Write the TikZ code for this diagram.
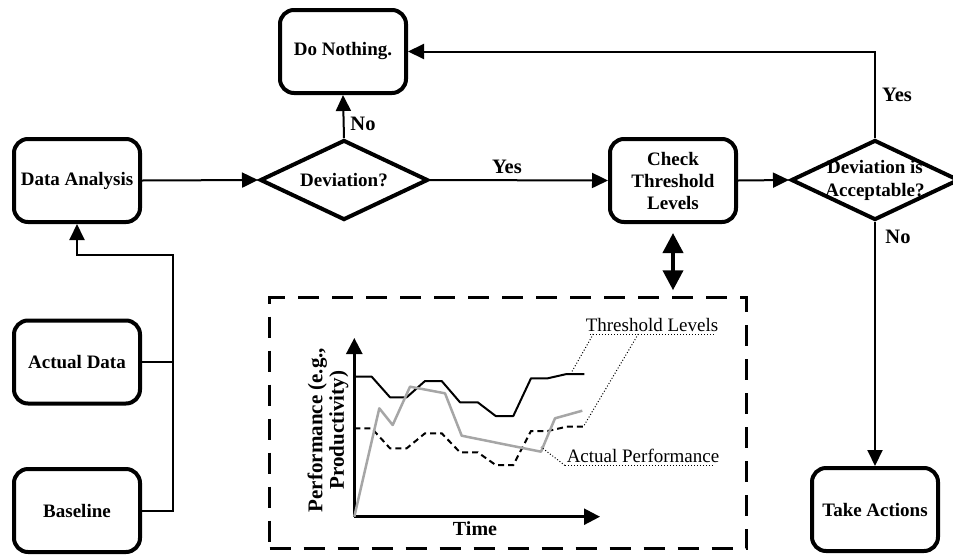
\documentclass[tikz,border=0pt]{standalone}
\usepackage{fontspec}
\setmainfont{Liberation Serif}
\usetikzlibrary{shapes.geometric,arrows.meta}
\begin{document}
\begin{tikzpicture}[x=1pt,y=-1pt,
  box/.style={draw, line width=4pt, rounded corners=14pt, minimum width=126pt,
    minimum height=83pt, align=center, inner sep=0pt,
    font=\fontsize{19}{22}\selectfont\bfseries},
  decision/.style={draw, diamond, line width=4pt, minimum width=168pt,
    minimum height=80pt, inner sep=0pt},
  dtext/.style={align=center, font=\fontsize{19}{23}\selectfont\bfseries},
  conn/.style={line width=2pt, -{Triangle[length=16pt,width=15pt]}},
  wire/.style={line width=2pt},
  lbl/.style={font=\fontsize{20.5}{24}\selectfont\bfseries, inner sep=0pt},
  twoway/.style={line width=4pt, {Triangle[length=20pt,width=20pt]}-{Triangle[length=20pt,width=20pt]}},
  chartbox/.style={draw, line width=2.5pt, dash pattern=on 21pt off 13pt,
    minimum width=477pt, minimum height=251pt, inner sep=0pt},
  axis/.style={line width=2.5pt, -{Triangle[length=16pt,width=16pt]}},
  note/.style={font=\fontsize{19}{22}\selectfont, inner sep=0pt},
  pointer/.style={line width=1pt, dotted},
]
\useasboundingbox (0,0) rectangle (953,555);

% process boxes
\node[box] (dn) at (343,51.5) {Do Nothing.};
\node[box] (da) at (77,180.5) {Data Analysis};
\node[box] (chk) at (673,180.5) {Check\\Threshold\\Levels};
\node[box] (ad) at (77,362) {Actual Data};
\node[box] (bl) at (77,510.5) {Baseline};
\node[box] (ta) at (875,509.5) {Take Actions};

% decisions
\node[decision] (dev) at (344,180) {};
\node[dtext] at (dev.center) {Deviation?};
\node[decision] (acc) at (875,180) {};
\node[dtext] at (acc.center) {Deviation is\\Acceptable?};

% flow connectors
\coordinate (jn) at (173,255);
\draw[wire] (ad.east) -- (ad.east -| jn);
\draw[conn] (bl.east) -| (jn) -| (da.south);
\draw[conn] (da.east) -- (dev.west);
\draw[conn] (dev.north) -- (dn.south);
\draw[conn] (dev.east) -- (chk.west);
\draw[conn] (chk.east) -- (acc.west);
\draw[conn] (acc.north) |- (dn.east);
\draw[conn] (acc.south) -- (ta.north);

% branch labels
\node[lbl] (l1) at (363,124) {No};
\node[lbl] (l2) at (507,167) {Yes};
\node[lbl] (l3) at (897,95) {Yes};
\node[lbl] (l4) at (898,237) {No};

% chart panel
\node[chartbox] (chart) at (508,423) {};
\draw[twoway, shorten <=9pt, shorten >=6pt] (chk.south) -- (chk.south |- chart.north);

\coordinate (o) at (354.3,516.7);
\draw[axis] (o) -- (354.3,338);
\draw[axis] (o) -- (600,516.7);
\node[font=\fontsize{20}{22}\selectfont\bfseries, inner sep=0pt] (tx) at (475,529) {Time};
\node[rotate=90, align=center, inner sep=0pt,
      font=\fontsize{21}{21.5}\selectfont\bfseries] (ty) at (328,430)
      {Performance (e.g.,\\Productivity)};

% upper threshold
\draw[line width=2pt, line join=round] (354.3,376.7) -- (371.7,376.7) -- (390,397.3) -- (406.7,397.3)
  -- (425,381) -- (441.7,381) -- (460,402.3) -- (477.7,402.3) -- (495.7,416) -- (513.3,416)
  -- (531,378.3) -- (547.7,378.3) -- (566.7,374) -- (584.3,374);
% lower threshold
\draw[line width=2pt, dash pattern=on 6pt off 4pt] (354.3,428.3) -- (371.7,428.3) -- (390,448.3) -- (406.7,448.3)
  -- (425,433.3) -- (441.7,433.3) -- (460,452.3) -- (477.7,452.3) -- (495.7,465) -- (513.3,465)
  -- (531,431) -- (547.7,431) -- (566.7,426.7) -- (583.3,426.7);
% actual performance
\draw[line width=2.5pt, black!35, line join=round] (o) -- (379.3,408.3) -- (392.7,425) -- (410,386.7)
  -- (445,393.3) -- (461.7,435.7) -- (541,451.7) -- (555,418.3) -- (582.3,410.7);

% annotations
\node[note, anchor=south] (tl) at (652,332) {Threshold Levels};
\draw[pointer] (590,334) -- (714,334);
\draw[pointer] (593.3,334) -- (571.7,372);
\draw[pointer] (638.3,334) -- (583.3,426.7);
\node[note, anchor=south] (ap) at (643,463) {Actual Performance};
\draw[pointer] (565,465.5) -- (714,465.5);
\draw[pointer] (565,465.5) -- (541,447);
\end{tikzpicture}
\end{document}
